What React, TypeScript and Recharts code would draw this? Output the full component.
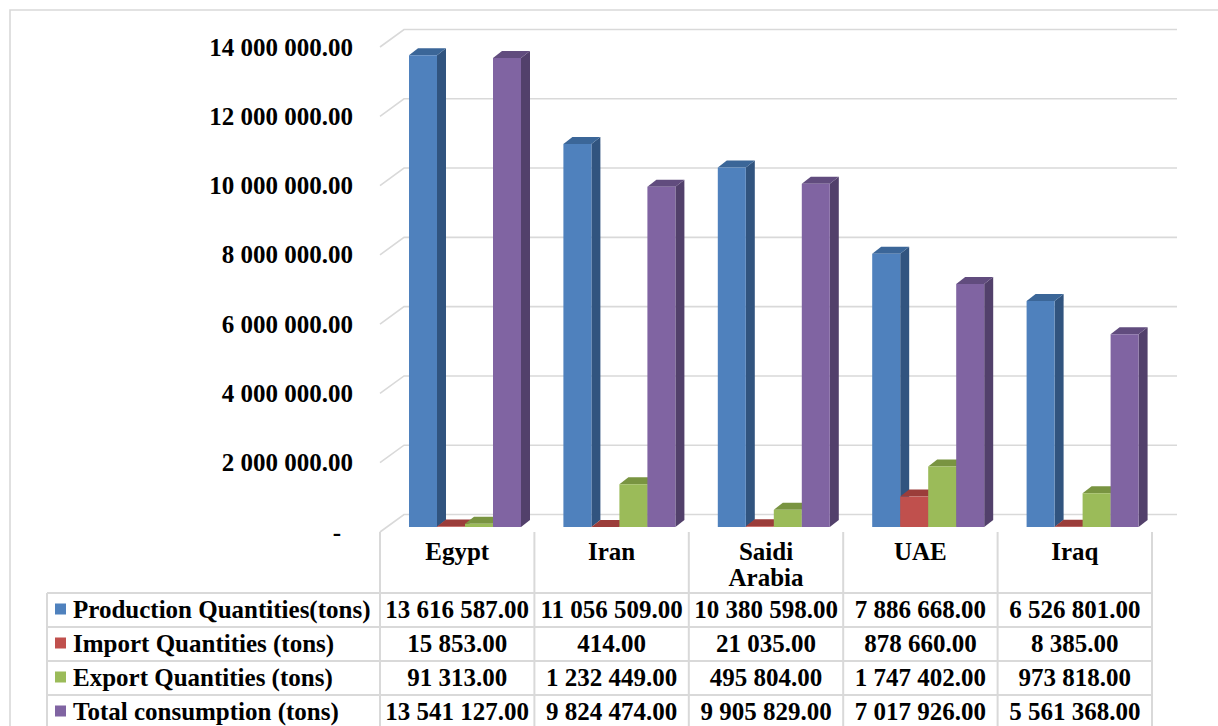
import { BarChart, Bar, XAxis, YAxis, CartesianGrid } from "recharts";

const categories = ["Egypt", "Iran", "Saidi Arabia", "UAE", "Iraq"];
const production = [13616587, 11056509, 10380598, 7886668, 6526801];
const imports = [15853, 414, 21035, 878660, 8385];
const exportsQty = [91313, 1232449, 495804, 1747402, 973818];
const consumption = [13541127, 9824474, 9905829, 7017926, 5561368];
const yTicks = [0, 2000000, 4000000, 6000000, 8000000, 10000000, 12000000, 14000000];

const series = [
  { key: "production", name: "Production Quantities(tons)", values: production, front: "#4f81bd", side: "#31547f", top: "#3b6698" },
  { key: "imports", name: "Import Quantities (tons)", values: imports, front: "#c0504d", side: "#8c3836", top: "#9b3d3a" },
  { key: "exports", name: "Export Quantities (tons)", values: exportsQty, front: "#9bbb59", side: "#6f8a3d", top: "#799441" },
  { key: "consumption", name: "Total consumption (tons)", values: consumption, front: "#8064a2", side: "#52406b", top: "#614c7e" },
];

const data = categories.map((name, i) => {
  const row: Record<string, any> = { name };
  series.forEach((s) => (row[s.key] = s.values[i]));
  return row;
});

const FONT = "'Liberation Serif', 'Times New Roman', serif";
const FONT_SIZE = 25;
const GRID = "#d9d9d9";

// 3D column depth
const DX = 9;
const DY = 7;

// plot box
const PLOT_LEFT = 388;
const PLOT_RIGHT = 1160;
const PLOT_TOP = 42;
const PLOT_BOTTOM = 527;

// data table geometry
const TABLE_LEFT = 47;
const COL_START = 380;
const COL_W = (1152 - 380) / categories.length;
const HEAD_TOP = 532;
const ROW_TOP = 593;
const ROW_H = 34;

function fmt(v: number) {
  const [i, d] = v.toFixed(2).split(".");
  return i.replace(/\B(?=(\d{3})+(?!\d))/g, " ") + "." + d;
}

function Column3D(props: any) {
  const { x, y, width, height, colors } = props;
  if (x == null || y == null) return null;
  const w = width;
  const h = Math.max(height, 0);
  const front = `M${x},${y}h${w}v${h}h${-w}Z`;
  const side = `M${x + w},${y}L${x + w + DX},${y - DY}L${x + w + DX},${y + h - DY}L${x + w},${y + h}Z`;
  const top = `M${x},${y}L${x + DX},${y - DY}L${x + w + DX},${y - DY}L${x + w},${y}Z`;
  return (
    <g>
      <path d={side} fill={colors.side} />
      <path d={top} fill={colors.top} />
      <path d={front} fill={colors.front} />
    </g>
  );
}

function GridLine(props: any) {
  const { x1, x2, y1, index } = props;
  const back = y1 - 12.5;
  return (
    <g key={`gl-${index}`}>
      <polyline
        points={`${x1 - 8},${y1 + 5} ${x1 + 16},${back} ${x2 + 17},${back}`}
        fill="none"
        stroke={GRID}
        strokeWidth={1.6}
      />
    </g>
  );
}

function YTick(props: any) {
  const { y, payload } = props;
  const v = payload.value;
  return (
    <text
      x={v === 0 ? 341 : 353}
      y={y + 5}
      textAnchor="end"
      dominantBaseline="central"
      fontFamily={FONT}
      fontWeight="bold"
      fontSize={FONT_SIZE}
      fill="#000"
    >
      {v === 0 ? "-" : fmt(v)}
    </text>
  );
}

function headerLines(name: string) {
  return name.length > 10 ? name.split(" ") : [name];
}

function DataTable() {
  const colX = categories.map((_, i) => COL_START + i * COL_W);
  const tableRight = COL_START + categories.length * COL_W;
  return (
    <svg width={1218} height={726} style={{ position: "absolute", left: 0, top: 0 }}>
      {/* outer chart frame */}
      <polyline points="10,726 10,10 1218,10" fill="none" stroke={GRID} strokeWidth={1.6} />
      {/* verticals */}
      <line x1={TABLE_LEFT} y1={ROW_TOP} x2={TABLE_LEFT} y2={726} stroke={GRID} strokeWidth={2} />
      {[...colX, tableRight].map((x, i) => (
        <line key={`v${i}`} x1={x} y1={HEAD_TOP} x2={x} y2={726} stroke={GRID} strokeWidth={2} />
      ))}
      {/* horizontals */}
      {series.map((_, r) => (
        <line
          key={`h${r}`}
          x1={TABLE_LEFT}
          y1={ROW_TOP + r * ROW_H}
          x2={tableRight}
          y2={ROW_TOP + r * ROW_H}
          stroke={GRID}
          strokeWidth={2}
        />
      ))}
      <g fontFamily={FONT} fontWeight="bold" fontSize={FONT_SIZE} fill="#000">
        {categories.map((c, i) =>
          headerLines(c).map((line, j) => (
            <text
              key={`c${i}-${j}`}
              x={colX[i] + COL_W / 2}
              y={551 + j * 26}
              textAnchor="middle"
              dominantBaseline="central"
            >
              {line}
            </text>
          ))
        )}
        {series.map((s, r) => {
          const cy = ROW_TOP + r * ROW_H + 16;
          return (
            <g key={s.key}>
              <rect x={55} y={cy - 5.5} width={11} height={11} fill={s.front} />
              <text x={73} y={cy} dominantBaseline="central">
                {s.name}
              </text>
              {s.values.map((v, i) => (
                <text
                  key={i}
                  x={colX[i] + COL_W / 2}
                  y={cy}
                  textAnchor="middle"
                  dominantBaseline="central"
                >
                  {fmt(v)}
                </text>
              ))}
            </g>
          );
        })}
      </g>
    </svg>
  );
}

export default function App() {
  return (
    <div
      style={{
        position: "absolute",
        left: 0,
        top: 0,
        width: 1218,
        height: 726,
        overflow: "hidden",
        background: "#fff",
      }}
    >
      <div style={{ position: "absolute", left: 0, top: 0 }}>
        <BarChart
          width={1218}
          height={726}
          data={data}
          barSize={28}
          barGap={0}
          margin={{ top: PLOT_TOP, right: 1218 - PLOT_RIGHT, bottom: 726 - PLOT_BOTTOM, left: 0 }}
        >
          <CartesianGrid vertical={false} horizontal={(p: any) => <GridLine {...p} />} />
          <XAxis dataKey="name" hide />
          <YAxis
            width={PLOT_LEFT}
            domain={[0, 14000000]}
            ticks={yTicks}
            interval={0}
            axisLine={false}
            tickLine={false}
            tick={<YTick />}
          />
          {series.map((s) => (
            <Bar
              key={s.key}
              dataKey={s.key}
              name={s.name}
              fill={s.front}
              isAnimationActive={false}
              shape={(p: any) => <Column3D {...p} colors={s} />}
            />
          ))}
        </BarChart>
      </div>
      <DataTable />
    </div>
  );
}
